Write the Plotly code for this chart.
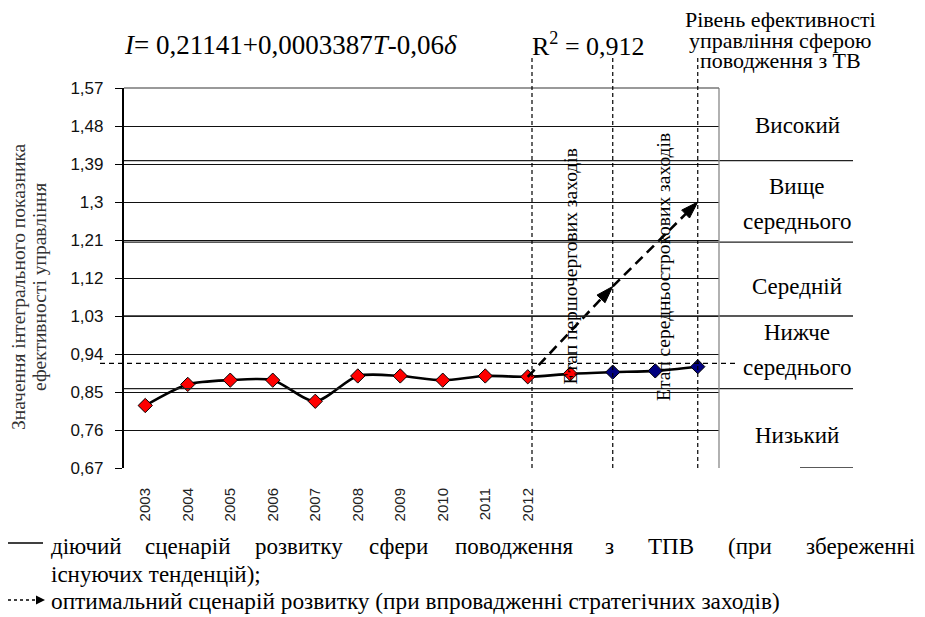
import plotly.graph_objects as go

# ---------------- data ----------------
years = ["2003", "2004", "2005", "2006", "2007", "2008", "2009", "2010", "2011", "2012"]
x_pos = list(range(14))
actual = [0.818, 0.868, 0.878, 0.878, 0.828, 0.888, 0.888, 0.878, 0.888, 0.886,
          0.893, 0.897, 0.900, 0.910]
n_fact = 11  # red (actual) points, the rest are forecast (navy)
optimal_x = [9, 11, 13]
optimal = [0.886, 1.10, 1.30]
stage_x = [9.1, 11, 13]
y_ticks = [0.67, 0.76, 0.85, 0.94, 1.03, 1.12, 1.21, 1.30, 1.39, 1.48, 1.57]
y_ticklabels = ["0,67", "0,76", "0,85", "0,94", "1,03", "1,12", "1,21", "1,3", "1,39", "1,48", "1,57"]
band_bounds = [1.398, 1.205, 1.03, 0.858]
level_labels = ["Високий", "Вище", "середнього", "Середній", "Нижче", "середнього", "Низький"]
level_y = [1.482, 1.336, 1.255, 1.099, 0.990, 0.909, 0.748]
threshold = 0.918

# ---------------- layout geometry (screen pixels) ----------------
W, H = 925, 617
OFF = 8  # page body margin
L, R, T, B = 124, 719, 88, 468


def px(xp):
    return (xp - L) / (R - L)


def py(yp):
    return (B - yp) / (B - T)


SERIF = "Liberation Serif"
SANS = "Liberation Sans"

fig = go.Figure()

# actual scenario (smoothed line)
fig.add_trace(go.Scatter(
    x=x_pos, y=actual, mode="lines",
    line=dict(color="black", width=2.6, shape="spline", smoothing=0.8),
    hoverinfo="skip", showlegend=False))
fig.add_trace(go.Scatter(
    x=x_pos[:n_fact], y=actual[:n_fact], mode="markers",
    marker=dict(symbol="diamond", size=11, color="#ff0000", line=dict(color="black", width=1)),
    showlegend=False))
fig.add_trace(go.Scatter(
    x=x_pos[n_fact:], y=actual[n_fact:], mode="markers",
    marker=dict(symbol="diamond", size=11, color="#000080", line=dict(color="black", width=1)),
    showlegend=False))

# optimal scenario dashed arrows
fig.add_trace(go.Scatter(
    x=optimal_x, y=optimal, mode="lines+markers",
    line=dict(color="black", width=2.6, dash="10px,6px"),
    marker=dict(symbol="arrow", size=[0, 18, 18], angleref="previous", color="black", opacity=1,
                line=dict(color="black", width=1)),
    showlegend=False))

shapes = []
# band boundaries extending to the right
for b in band_bounds:
    shapes.append(dict(type="line", xref="paper", yref="y", x0=0, x1=px(853), y0=b, y1=b,
                       line=dict(color="#222", width=1.3)))
shapes.append(dict(type="line", xref="paper", yref="y", x0=px(800), x1=px(853), y0=0.67, y1=0.67,
                   line=dict(color="#222", width=1.3)))
# right border of plot
shapes.append(dict(type="line", xref="paper", yref="paper", x0=1, x1=1, y0=0, y1=1,
                   line=dict(color="#888", width=1.3)))
# top border (grey)
shapes.append(dict(type="line", xref="paper", yref="paper", x0=0, x1=1, y0=1, y1=1,
                   line=dict(color="#777", width=1.5)))
# stage vertical dashed lines
for sx in stage_x:
    shapes.append(dict(type="line", xref="x", yref="paper", x0=sx, x1=sx, y0=0, y1=py(55),
                       line=dict(color="black", width=1.2, dash="4px,3px")))
# threshold dashed line
shapes.append(dict(type="line", xref="paper", yref="y", x0=px(100), x1=px(735),
                   y0=threshold, y1=threshold, line=dict(color="black", width=1.2, dash="5px,4px")))
# legend symbols
shapes.append(dict(type="line", xref="paper", yref="paper", x0=px(8), x1=px(43), y0=py(543), y1=py(543),
                   line=dict(color="black", width=1.3)))
shapes.append(dict(type="line", xref="paper", yref="paper", x0=px(8), x1=px(36), y0=py(600), y1=py(600),
                   line=dict(color="black", width=1.3, dash="3px,3px")))


def text(x, y, t, size, xref="paper", yref="paper", xanchor="center", angle=0, color="black"):
    return dict(xref=xref, yref=yref, x=x, y=y, text=t, showarrow=False, xanchor=xanchor,
                yanchor="middle", textangle=angle, font=dict(family=SERIF, size=size, color=color))


ann = []
# arrowhead for legend symbol
ann.append(dict(xref="paper", yref="paper", x=px(45), y=py(600), ax=-10, ay=0, text="",
                showarrow=True, arrowhead=2, arrowsize=1.2, arrowwidth=1.5, arrowcolor="black"))
# formula and R^2
ann.append(text(px(290), py(45), "<i>I</i>= 0,21141+0,0003387<i>T</i>-0,06<i>δ</i>", 27))
ann.append(text(px(588), py(45), "R<sup>2</sup> = 0,912", 26))
# header for the level column
for t, yy in zip(["Рівень ефективності", "управління сферою", "поводження з ТВ"], [19, 40, 61]):
    ann.append(text(px(780), py(yy), t, 22))
# level labels
for t, yy in zip(level_labels, level_y):
    ann.append(text(px(797), yy, t, 23, yref="y"))
# stage labels (vertical)
ann.append(text(10, 1.148, "Етап першочергових заходів", 19.5, xref="x", yref="y", angle=-90))
ann.append(text(12.18, 1.146, "Етап середньострокових заходів", 19.5, xref="x", yref="y", angle=-90))
# y-axis title (two lines)
ann.append(text(px(18), py(287), "Значення інтегрального показника", 19.5, angle=-90, color="#333"))
ann.append(text(px(39), py(287), "ефективності управління", 19.5, angle=-90, color="#333"))
# legend text, line 1 (justified)
words1 = ["діючий", "сценарій", "розвитку", "сфери", "поводження", "з", "ТПВ", "(при", "збереженні"]
words1_x = [49, 143, 253, 367, 453, 603, 646, 726, 804]
for w, xx in zip(words1, words1_x):
    ann.append(text(px(xx), py(546), w, 23, xanchor="left"))
ann.append(text(px(49), py(574), "існуючих тенденцій);", 23, xanchor="left"))
ann.append(text(px(49), py(601), "оптимальний сценарій розвитку (при впровадженні стратегічних заходів)",
                23.3, xanchor="left"))

fig.update_layout(
    width=W - OFF, height=H - OFF,
    margin=dict(l=L - OFF, r=W - R, t=T - OFF, b=H - B),
    plot_bgcolor="white", paper_bgcolor="white",
    shapes=shapes, annotations=ann,
    xaxis=dict(range=[-0.5, 13.5], tickvals=x_pos[:len(years)], ticktext=years, tickangle=-90,
               showgrid=False, zeroline=False, showline=False, ticks="outside", ticklen=13,
               tickcolor="white", tickfont=dict(family=SANS, size=15, color="#222")),
    yaxis=dict(range=[0.67, 1.57], tickvals=y_ticks, ticktext=y_ticklabels,
               showgrid=True, gridcolor="#111", gridwidth=1.3, zeroline=False,
               showline=True, linecolor="black", linewidth=2.2, ticks="outside", ticklen=7,
               ticklabelstandoff=8,
               tickcolor="black", tickfont=dict(family=SANS, size=17, color="#111")),
    showlegend=False,
)

fig.write_html("out.html")
